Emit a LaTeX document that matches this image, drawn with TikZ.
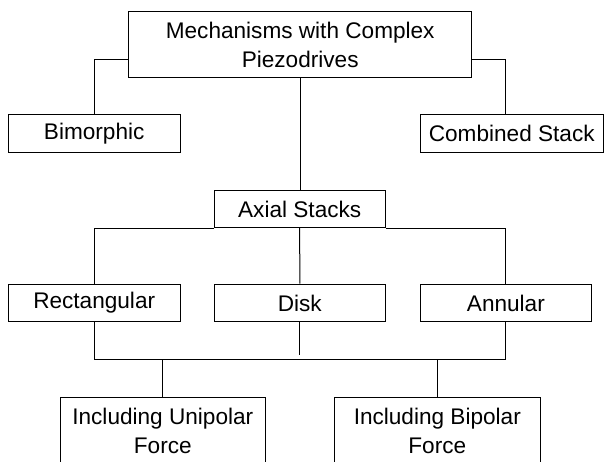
\documentclass[tikz,border=0pt]{standalone}
\usepackage{fontspec}
\setmainfont{Liberation Sans}
\usetikzlibrary{positioning, calc}

\tikzset{
  box/.style={draw, line width=1pt, inner sep=0pt, align=center, minimum height=37.6pt, font=\fontsize{22.6}{28.5}\selectfont},
  link/.style={line width=1pt},
}

\begin{document}
\begin{tikzpicture}[x=1pt, y=-1pt]
\clip (0,0) rectangle (605,461);
\node[box, minimum width=343pt, minimum height=65.7pt] (mech) at (300.2,44.8) {Mechanisms with Complex\\Piezodrives};
\node[box, minimum width=171.7pt] (bim) at (94.2,133.5) {Bimorphic};
\node[box, minimum width=183.5pt] (comb) at (511.75,133.5) {Combined Stack};
\node[box, minimum width=171.3pt, minimum height=37pt] (axial) at (299.7,209) {Axial Stacks};
\node[box, minimum width=171.7pt] (rect) at (94.2,303) {Rectangular};
\node[box, minimum width=171pt] (disk) at (299.8,303) {Disk};
\node[box, minimum width=171.7pt] (ann) at (505.9,303) {Annular};
\node[box, minimum width=205.6pt, minimum height=67pt] (unip) at (162.8,430.8) {Including Unipolar\\Force};
\node[box, minimum width=206.5pt, minimum height=67pt] (bip) at (437.3,430.8) {Including Bipolar\\Force};
\coordinate (lowbus) at (300,359.3);
\coordinate (diskend) at (299.8,355);
\draw[link] ([yshift=18.7pt]mech.south west) -| (bim.north);
\draw[link] ([yshift=18.7pt]mech.south east) -| (ann.north |- comb.north);
\draw[link] (mech.south) -- (mech.south |- axial.north);
\draw[link] (rect.north) |- (axial.south west);
\draw[link] (axial.south east) -| (ann.north);
\draw[link] (axial.south) -- (disk.north);
\draw[link] (rect.south) |- (lowbus) -| (ann.south);
\draw[link] (disk.south) -- (disk.south |- diskend);
\draw[link] (unip.north) -- (unip.north |- lowbus);
\draw[link] (bip.north) -- (bip.north |- lowbus);
\end{tikzpicture}
\end{document}
